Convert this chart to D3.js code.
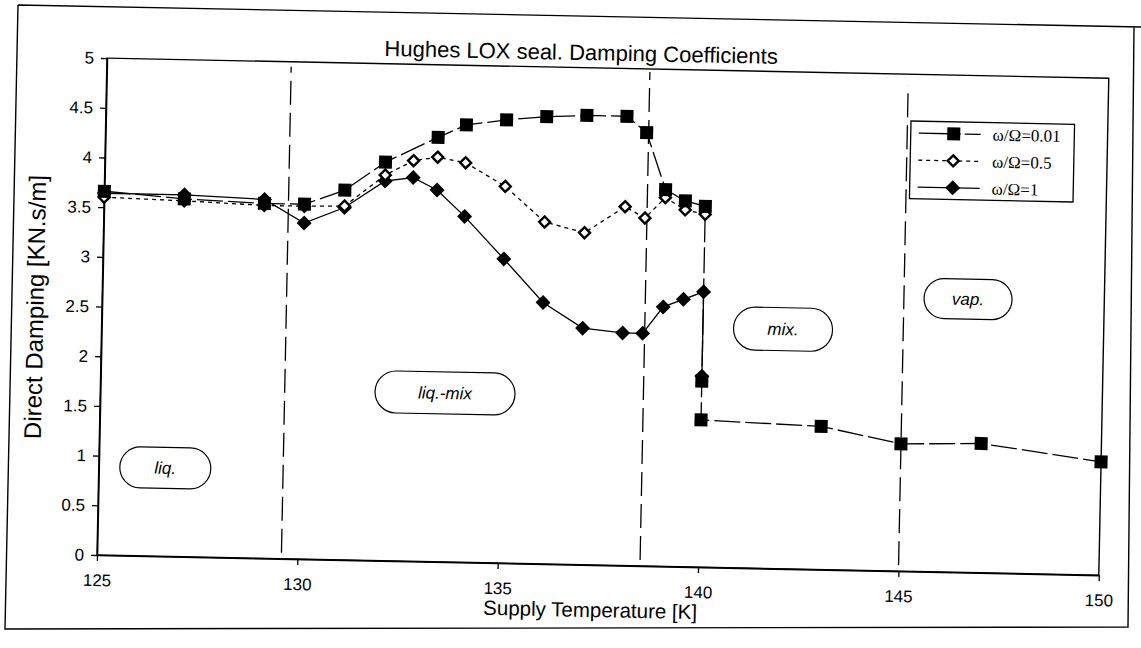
<!DOCTYPE html>
<html><head><meta charset="utf-8">
<script src="https://cdn.jsdelivr.net/npm/d3@7"></script>
<style>
body{margin:0;background:#fff}
svg{display:block}
</style>
</head><body><svg id="c" width="1141" height="648"></svg>
<script>
// ---------- data ----------
const titleText = "Hughes LOX seal. Damping Coefficients";
const xLabelText = "Supply Temperature [K]";
const yLabelText = "Direct Damping [KN.s/m]";
const xTicks = [125,130,135,140,145,150];
const yTicks = [0,0.5,1,1.5,2,2.5,3,3.5,4,4.5,5];
const seriesNames = ["\u03c9/\u03a9=0.01","\u03c9/\u03a9=0.5","\u03c9/\u03a9=1"];

// ω/Ω=0.01 (filled squares)
const tSq = [125,127,129,130,131,132,133.3,134,135,136,137,138,138.5,139,139.5,140,140,140,143,145,147,150];
const vSq = [3.66,3.60,3.57,3.57,3.72,4.01,4.27,4.40,4.46,4.50,4.52,4.52,4.36,3.79,3.68,3.63,1.87,1.48,1.44,1.28,1.30,1.14];
// ω/Ω=0.5 (open diamonds)
const tOp = [125,127,129,130,131,132,132.7,133.3,134,135,136,137,138,138.5,139,139.5,140];
const vOp = [3.60,3.58,3.55,3.55,3.56,3.88,4.03,4.07,4.02,3.79,3.44,3.34,3.61,3.50,3.71,3.59,3.55];
// ω/Ω=1 (filled diamonds)
const tFd = [125,127,129,130,131,132,132.7,133.3,134,135,136,137,138,138.5,139,139.5,140,140];
const vFd = [3.64,3.64,3.61,3.38,3.545,3.82,3.86,3.74,3.48,3.06,2.63,2.38,2.34,2.34,2.61,2.69,2.77,1.92];

// regime boundaries (K) and regime labels
const boundaryT = [129.6,138.55,145];
const boundaryTop = [4.95,4.97,4.89];
const regimeNames = ["liq.","liq.-mix","mix.","vap."];
const regimeT = [126.66,133.6,142.0,146.6];
const regimeV = [0.89,1.70,2.41,2.75];

// ---------- layout ----------
const W=1141,H=648;
const ox=97, oy=555, theta=1.15;   // scanned page is slightly rotated
const rad=theta*Math.PI/180, cs=Math.cos(rad), sn=Math.sin(rad);
function unrot(px,py){const dx=px-ox,dy=py-oy;return [ox+dx*cs+dy*sn, oy-dx*sn+dy*cs];}
const SANS="'Liberation Sans',Arial,sans-serif", SERIF="'Liberation Serif','Times New Roman',serif";

const svg=d3.select("#c");
svg.append("rect").attr("width",W).attr("height",H).attr("fill","#fff");
// outer frame (page coords)
svg.append("path").attr("d","M18,5 L1141,27 M1134,27 L1128,627 L5,629 L18,5")
  .attr("fill","none").attr("stroke","#000").attr("stroke-width",1.4);

const g=svg.append("g").attr("transform",`rotate(${theta},${ox},${oy})`);

const x=d3.scaleLinear().domain([125,150]).range([97,1099]);
const y=d3.scaleLinear().domain([0,5]).range([555,58]);

// plot frame
g.append("rect").attr("x",x(125)).attr("y",y(5)).attr("width",x(150)-x(125)).attr("height",y(0)-y(5))
  .attr("fill","none").attr("stroke","#000").attr("stroke-width",1.4);

// axes
const ax=g.append("g").attr("transform",`translate(0,${y(0)})`)
  .call(d3.axisBottom(x).tickValues(xTicks).tickSize(6).tickSizeOuter(0).tickPadding(13).tickFormat(d=>String(d)));
const ay=g.append("g").attr("transform",`translate(${x(125)},0)`)
  .call(d3.axisLeft(y).tickValues(yTicks).tickSize(6).tickSizeOuter(0).tickPadding(7).tickFormat(d=>String(d)));
[ax,ay].forEach(a=>{
  a.selectAll("path").attr("stroke","#000").attr("stroke-width",1.6);
  a.selectAll("line").attr("stroke","#000").attr("stroke-width",1.3);
  a.selectAll("text").style("font-size","17px").style("font-family",SANS).attr("fill","#000");
});

// regime boundary dashed lines
g.selectAll("line.bd").data(boundaryT).enter().append("line").attr("class","bd")
  .attr("x1",d=>x(d)).attr("x2",d=>x(d)).attr("y1",y(0.06)).attr("y2",(d,i)=>y(boundaryTop[i]))
  .attr("stroke","#000").attr("stroke-width",1.3).attr("stroke-dasharray","24,8");

// regime labels
const pillW=[91,140,99,88], pillH=[41,42,43,40];
regimeNames.forEach((n,i)=>{
  const cx=x(regimeT[i]), cy=y(regimeV[i]);
  g.append("rect").attr("x",cx-pillW[i]/2).attr("y",cy-pillH[i]/2).attr("width",pillW[i]).attr("height",pillH[i])
    .attr("rx",pillH[i]/2).attr("fill","#fff").attr("stroke","#000").attr("stroke-width",1.2);
  g.append("text").attr("x",cx).attr("y",cy).attr("dy","0.35em").attr("text-anchor","middle")
    .style("font-family",SANS).style("font-size","17px").style("font-style","italic").text(n);
});

// series
const line=d3.line().x(d=>x(d[0])).y(d=>y(d[1]));
const sq=d3.zip(tSq,vSq), op=d3.zip(tOp,vOp), fd=d3.zip(tFd,vFd);
g.append("path").datum(op).attr("d",line).attr("fill","none").attr("stroke","#000").attr("stroke-width",1.3).attr("stroke-dasharray","4,4");
g.append("path").datum(fd).attr("d",line).attr("fill","none").attr("stroke","#000").attr("stroke-width",1.3);
g.append("path").datum(sq).attr("d",line).attr("fill","none").attr("stroke","#000").attr("stroke-width",1.3).attr("stroke-dasharray","26,5");

const diamondPath=(s)=>`M0,${-s}L${s},0L0,${s}L${-s},0Z`;
g.selectAll("path.fd").data(fd).enter().append("path").attr("class","fd")
  .attr("d",diamondPath(7.5)).attr("transform",d=>`translate(${x(d[0])},${y(d[1])})`).attr("fill","#000");
g.selectAll("path.op").data(op).enter().append("path").attr("class","op")
  .attr("d",diamondPath(5.5)).attr("transform",d=>`translate(${x(d[0])},${y(d[1])})`)
  .attr("fill","#fff").attr("stroke","#000").attr("stroke-width",2.4);
g.selectAll("rect.sq").data(sq).enter().append("rect").attr("class","sq")
  .attr("x",d=>x(d[0])-6.5).attr("y",d=>y(d[1])-6.5).attr("width",13).attr("height",13).attr("fill","#000");

// legend
const lb=unrot(911,121), lbr=unrot(1073,202);
const lg=g.append("g");
lg.append("rect").attr("x",lb[0]).attr("y",lb[1]).attr("width",lbr[0]-lb[0]).attr("height",lbr[1]-lb[1])
  .attr("fill","#fff").attr("stroke","#000").attr("stroke-width",1.3);
const rowY=[lb[1]+12,lb[1]+39,lb[1]+66];
const lx0=lb[0]+8, lx1=lb[0]+70, lmx=lb[0]+43, ltx=lb[0]+82;
seriesNames.forEach((n,i)=>{
  const ln=lg.append("line").attr("x1",lx0).attr("x2",lx1).attr("y1",rowY[i]).attr("y2",rowY[i]).attr("stroke","#000").attr("stroke-width",1.3);
  if(i===0) ln.attr("stroke-dasharray","30,4,8,4");
  if(i===1) ln.attr("stroke-dasharray","4,4");
  if(i===0) lg.append("rect").attr("x",lmx-6.5).attr("y",rowY[i]-6.5).attr("width",13).attr("height",13).attr("fill","#000");
  if(i===1) lg.append("path").attr("d",diamondPath(5.5)).attr("transform",`translate(${lmx},${rowY[i]})`).attr("fill","#fff").attr("stroke","#000").attr("stroke-width",2.4);
  if(i===2) lg.append("path").attr("d",diamondPath(7.5)).attr("transform",`translate(${lmx},${rowY[i]})`).attr("fill","#000");
  lg.append("text").attr("x",ltx).attr("y",rowY[i]).attr("dy","0.35em")
    .style("font-family",SERIF).style("font-size","17px").text(n);
});

// title & axis titles
const tp=unrot(581,60);
g.append("text").attr("x",tp[0]).attr("y",tp[1]).attr("text-anchor","middle")
  .style("font-family",SANS).style("font-size","22px").text(titleText);
const xp=unrot(590,617);
g.append("text").attr("x",xp[0]).attr("y",xp[1]).attr("text-anchor","middle")
  .style("font-family",SANS).style("font-size","20.5px").text(xLabelText);
const yp=unrot(35,307);
g.append("text").attr("transform",`translate(${yp[0]},${yp[1]}) rotate(-90)`).attr("text-anchor","middle")
  .attr("dy","0.35em").style("font-family",SANS).style("font-size","24px").text(yLabelText);
</script></body></html>
